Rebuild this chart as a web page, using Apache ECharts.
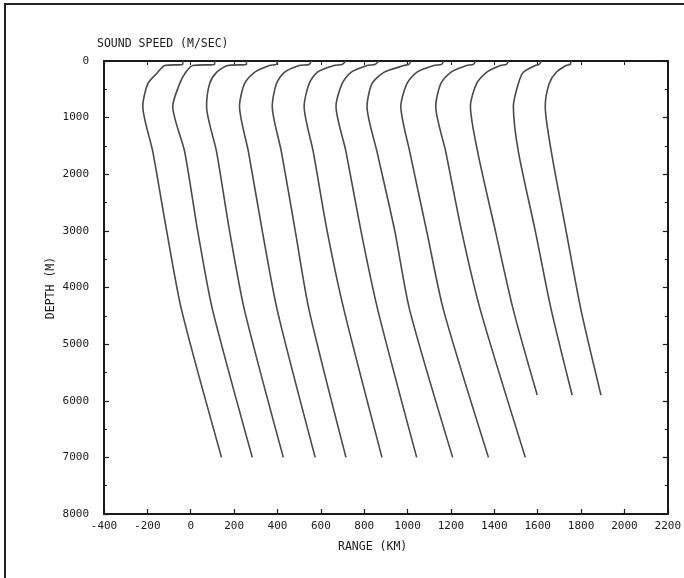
<!DOCTYPE html>
<html><head><meta charset="utf-8">
<script src="https://cdn.jsdelivr.net/npm/echarts@6/dist/echarts.min.js"></script>
<style>html,body{margin:0;padding:0;background:#fff}#c{width:684px;height:578px}</style>
</head><body><div id="c"></div>
<script>
// Depth levels (m) shared by all profiles; last point per profile is its end depth
const depthLevels = [0, 60, 80, 200, 400, 800, 1600, 3000, 4400];
const endDepths = [7000, 7000, 7000, 7000, 7000, 7000, 7000, 7000, 7000, 7000, 5900, 5900, 5900];
// Plotted positions (range-axis units, km) of each sound speed profile at those depths
const profile01 = [-37, -37, -120, -152, -198, -221, -175, -111, -42, 142];
const profile02 = [110, 110, 9, -23, -51, -83, -28, 32, 101, 284];
const profile03 = [257, 257, 170, 119, 87, 73, 119, 179, 248, 427];
const profile04 = [399, 395, 363, 294, 248, 225, 266, 330, 399, 574];
const profile05 = [556, 546, 500, 432, 395, 376, 418, 482, 546, 716];
const profile06 = [716, 698, 661, 583, 546, 523, 565, 629, 707, 882];
const profile07 = [868, 850, 813, 739, 698, 670, 716, 785, 863, 1042];
const profile08 = [1015, 1006, 983, 891, 836, 813, 859, 941, 1010, 1208];
const profile09 = [1166, 1157, 1121, 1042, 997, 969, 1010, 1088, 1166, 1373];
const profile10 = [1313, 1304, 1272, 1199, 1153, 1130, 1176, 1249, 1336, 1543];
const profile11 = [1465, 1456, 1428, 1364, 1318, 1290, 1323, 1405, 1488, 1598];
const profile12 = [1617, 1607, 1589, 1534, 1511, 1488, 1511, 1589, 1663, 1759];
const profile13 = [1754, 1750, 1731, 1686, 1653, 1635, 1663, 1731, 1800, 1892];
const profiles = [profile01, profile02, profile03, profile04, profile05, profile06, profile07,
  profile08, profile09, profile10, profile11, profile12, profile13];

const xMin = -400, xMax = 2200, xStep = 200;
const yMin = 0, yMax = 8000, yStep = 1000;

const titleTop = 'SOUND SPEED (M/SEC)';
const titleX = 'RANGE (KM)';
const titleY = 'DEPTH (M)';

const FONT = 'DejaVu Sans Mono';
const INK = '#1a1a1a';

const series = profiles.map((p, i) => {
  const data = depthLevels.map((d, j) => [p[j], d]);
  data.push([p[p.length - 1], endDepths[i]]);
  return {
    type: 'line', data, showSymbol: false, smooth: 0.25, silent: true,
    lineStyle: { color: '#4a4a4a', width: 1.6 }, xAxisIndex: 0, yAxisIndex: 0
  };
});

const plain = v => String(v);
const chart = echarts.init(document.getElementById('c'), null, { renderer: 'canvas' });
const lbl = { fontFamily: FONT, fontSize: 11, color: INK, formatter: plain };
chart.setOption({
  animation: false,
  backgroundColor: '#fff',
  grid: { left: 104, right: 14, top: 61, bottom: 64 },
  xAxis: [{
    type: 'value', min: xMin, max: xMax, interval: xStep, position: 'bottom',
    axisLine: { onZero: false, lineStyle: { color: INK, width: 2 } },
    axisTick: { inside: true, length: 5, lineStyle: { color: INK, width: 1.2 } },
    axisLabel: Object.assign({ margin: 7 }, lbl),
    splitLine: { show: false }
  }, {
    type: 'value', min: xMin, max: xMax, interval: xStep, position: 'top',
    axisLine: { show: true, onZero: false, lineStyle: { color: INK, width: 2 } },
    axisTick: { show: true, inside: true, length: 4, lineStyle: { color: INK, width: 1 } },
    axisLabel: { show: false }, splitLine: { show: false }
  }],
  yAxis: [{
    type: 'value', min: yMin, max: yMax, interval: yStep, inverse: true, position: 'left',
    axisLine: { onZero: false, lineStyle: { color: INK, width: 2 } },
    axisTick: { inside: true, length: 5, lineStyle: { color: INK, width: 1.2 } },
    minorTick: { show: true, splitNumber: 2, length: 3, lineStyle: { color: INK, width: 1 } },
    axisLabel: Object.assign({ margin: 15 }, lbl),
    splitLine: { show: false }
  }, {
    type: 'value', min: yMin, max: yMax, interval: yStep, inverse: true, position: 'right',
    axisLine: { show: true, onZero: false, lineStyle: { color: INK, width: 2 } },
    axisTick: { show: true, inside: true, length: 5, lineStyle: { color: INK, width: 1.2 } },
    minorTick: { show: true, splitNumber: 2, length: 3, lineStyle: { color: INK, width: 1 } },
    axisLabel: { show: false }, splitLine: { show: false }
  }],
  series,
  graphic: [
    { type: 'text', left: 97, top: 38, style: { text: titleTop, font: '11.5px "' + FONT + '"', fill: INK } },
    { type: 'text', left: 338, top: 541, style: { text: titleX, font: '11.5px "' + FONT + '"', fill: INK } },
    { type: 'text', x: 51, y: 288, rotation: Math.PI / 2,
      style: { text: titleY, font: '11.5px "' + FONT + '"', fill: INK, align: 'center', verticalAlign: 'middle' } },
    { type: 'polyline', shape: { points: [[5, 578], [5, 4], [684, 4]] },
      style: { stroke: '#222', lineWidth: 2, fill: null } }
  ]
});
</script>
</body></html>
